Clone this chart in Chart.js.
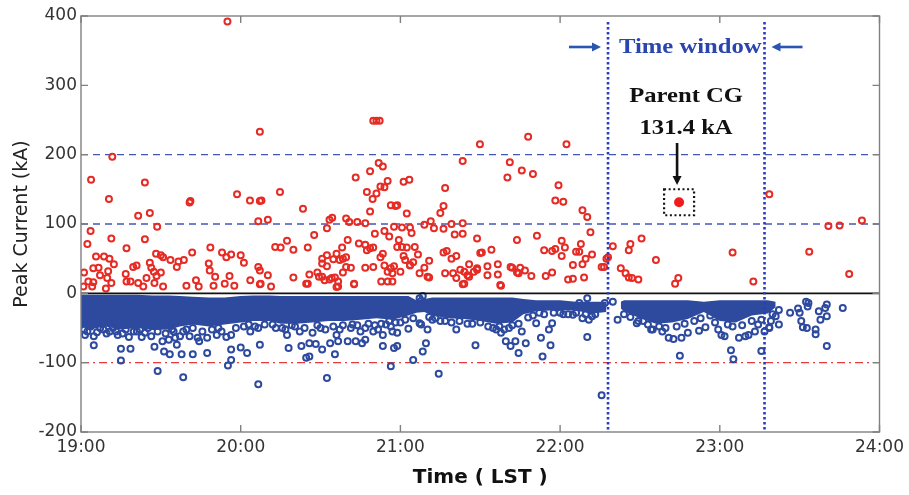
<!DOCTYPE html>
<html>
<head>
<meta charset="utf-8">
<script src="https://cdn.jsdelivr.net/npm/chart.js@4.4.1/dist/chart.umd.min.js"></script>
<style>
  html, body { margin: 0; padding: 0; background: #fff; }
  #wrap { width: 909px; height: 495px; }
</style>
</head>
<body>
<div id="wrap"><canvas id="peakChart" width="909" height="495"></canvas></div>
<script>
// axis ticks
const timeTicks = [19, 20, 21, 22, 23, 24];
const currentTicks = [-200, -100, 0, 100, 200, 300, 400];

// positive CG strokes: time (hours LST) and peak current (kA)
const posTime = [19.196,19.063,19.40,19.175,19.68,19.685,19.977,20.058,20.12,20.13,20.246,20.39,19.358,19.431,19.477,20.11,20.17,20.556,20.573,20.66,20.54,19.06,19.19,19.40,19.04,19.285,19.094,19.144,19.178,19.206,19.019,19.077,19.11,19.17,19.119,19.046,19.077,19.015,19.07,19.156,19.164,19.19,19.47,19.50,19.431,19.44,19.456,19.514,19.56,19.61,19.644,19.60,19.327,19.348,19.50,19.473,19.41,19.28,19.285,19.31,19.358,19.39,19.46,19.514,19.66,19.696,19.72,19.737,19.81,19.80,19.806,19.84,19.83,19.883,19.91,19.94,20.0,20.02,19.90,19.93,19.96,20.06,20.11,20.12,20.12,20.125,20.17,20.19,20.216,20.25,20.29,20.33,20.42,20.46,20.33,20.42,20.43,20.48,20.51,20.54,20.51,20.54,20.58,20.60,20.635,20.62,20.64,20.66,20.64,20.66,20.51,20.556,20.59,20.61,20.60,20.67,19.917,20.12,20.83,20.85,20.87,21.80,21.498,22.04,21.39,21.685,21.76,21.83,21.67,20.864,20.89,20.81,20.72,20.92,21.02,21.056,20.875,20.90,20.79,20.85,20.826,21.28,20.94,20.97,20.98,21.27,21.25,21.04,20.81,21.97,22.02,21.99,22.14,22.17,20.68,20.73,20.78,20.96,21.01,21.06,21.19,21.15,21.21,21.27,21.32,21.39,20.84,20.90,20.93,21.07,21.34,21.39,21.48,21.73,21.855,22.19,20.74,20.78,20.79,20.81,20.83,20.99,20.98,21.01,21.04,21.09,20.89,20.875,20.90,20.94,20.96,21.02,21.03,21.06,21.08,21.11,21.27,21.29,21.32,21.35,21.51,21.57,21.43,21.61,21.61,21.545,21.545,21.63,21.18,21.15,21.12,21.18,21.28,21.35,21.40,21.39,21.43,21.48,21.48,20.69,20.78,20.83,20.71,20.88,20.92,20.95,20.92,21.0,20.95,21.70,21.73,21.75,21.78,21.82,21.91,21.95,21.90,21.95,21.97,22.01,22.03,22.01,22.10,22.12,22.13,22.20,22.16,22.14,22.08,22.05,22.08,22.15,22.275,22.29,22.33,23.31,23.68,23.75,23.89,22.51,22.44,22.43,22.60,23.08,23.56,22.38,22.41,22.43,22.45,22.49,22.74,22.72,23.21,23.81,20.41,20.49,20.525,20.57,20.61,20.71,21.06,21.17,21.33,21.375,21.40,21.42,21.46,21.50,21.625,21.69,21.74,22.26,22.30];
const posCurrent = [197,164,160,136,131,133,143,134,133,134,146,122,112,116,96,104,106,106,109,108,94,90,79,78,71,65,53,53,50,42,30,36,37,32,26,17,16,10,10,7,22,15,57,55,44,37,31,52,48,46,48,38,38,40,30,25,22,28,17,17,15,10,15,10,11,59,19,10,66,43,33,24,11,59,52,56,55,44,14,25,11,19,38,33,13,14,26,10,67,66,76,63,66,84,23,14,27,30,50,55,43,39,49,57,66,48,50,52,30,38,24,20,23,17,9,77,392,233,249,249,249,226,215,215,191,189,177,172,167,188,183,176,167,162,161,164,154,153,146,144,136,152,127,126,127,126,116,115,118,134,132,156,120,110,103,103,101,96,95,95,104,99,94,93,100,101,86,90,82,87,85,86,79,77,83,88,72,70,62,65,66,77,67,67,66,67,57,52,40,36,39,54,48,40,45,56,59,61,50,54,59,63,42,42,27,39,26,11,47,37,29,23,29,22,31,13,24,34,36,37,37,38,13,17,17,17,31,31,29,37,30,37,33,25,25,30,62,61,64,76,66,54,60,60,71,56,50,42,41,20,21,23,38,50,68,143,97,98,105,79,71,62,48,59,60,36,29,23,22,20,22,14,17,28,14,24,19,22,10,14,41,24,29,34,14,26,31,58,12,38,29,38,52];

// negative CG strokes scattered outside the dense band
const negTime = [19.025,19.08,19.08,19.25,19.31,19.25,19.23,19.30,19.38,19.44,19.46,19.52,19.556,19.60,19.63,19.70,19.79,19.48,19.64,19.51,19.55,19.59,19.62,19.68,19.73,19.74,19.79,19.85,19.91,19.94,20.0,20.04,20.12,19.94,19.94,19.92,20.11,20.06,20.11,20.30,20.29,20.37,20.38,20.43,20.45,20.47,20.51,20.59,20.56,20.60,20.61,20.67,20.41,20.43,20.54,20.72,20.76,20.78,20.75,20.83,20.86,20.89,20.91,20.94,20.95,20.98,20.89,20.96,20.98,20.94,21.05,21.12,21.13,21.17,21.16,21.14,21.08,21.24,21.12,21.13,21.14,21.35,21.47,21.63,21.66,21.69,21.72,21.76,21.785,21.74,21.85,21.88,21.89,21.94,21.95,21.93,22.08,22.12,22.17,22.17,22.14,22.18,22.26,22.36,22.33,22.75,23.07,23.085,23.26,23.67,23.44,23.50,23.51,23.555,23.52,23.545,23.60,23.60,23.63,23.67,23.66,23.77,23.49,23.54,23.55,23.62,23.67,23.37,23.35,23.32,23.31,23.37,22.64,22.68,22.71,22.76,22.80,22.87,22.91,22.99,23.01,23.03,23.12,23.16,23.18,23.22,23.24,23.28,23.31,22.58,22.49,22.48,22.57,19.0,19.02,19.12,19.18,19.28,19.35,19.42,19.58,19.66,19.86,20.02,20.2,20.26,20.34,20.5,20.64,20.7,20.8,21.0,21.2,21.25,21.42,21.55,21.6,21.68,21.8,21.9,22.0,22.05,22.22,22.25,22.28,
  19.04,19.06,19.10,19.14,19.16,19.20,19.22,19.26,19.33,19.37,19.40,19.48,19.53,19.57,19.64,19.70,19.76,19.82,19.88,19.97,20.05,20.09,20.15,20.22,20.28,20.32,20.40,20.48,20.53,20.58,20.62,20.69,20.73,20.78,20.84,20.88,20.93,20.97,21.03,21.08,21.18,21.22,21.28,21.32,21.37,21.45,21.50,21.58,21.62,21.65,21.70,21.74,21.83,21.87,21.96,22.02,22.10,22.16,22.20,
  22.40,22.44,22.52,22.55,22.62,22.66,22.73,22.78,22.84,22.88,22.94,22.97,23.05,23.08,23.14,23.20,23.26,23.33];
const negCurrent = [-60,-62,-75,-80,-80,-97,-60,-63,-63,-62,-77,-84,-88,-74,-88,-88,-86,-112,-121,-69,-67,-64,-62,-62,-64,-69,-64,-60,-63,-60,-78,-86,-74,-81,-96,-104,-131,-55,-50,-79,-60,-55,-76,-72,-57,-73,-81,-88,-72,-60,-69,-69,-93,-91,-122,-69,-72,-67,-55,-55,-52,-60,-45,-48,-55,-57,-76,-79,-76,-105,-51,-43,-45,-52,-72,-84,-96,-116,-7,-11,-4,-52,-75,-57,-69,-76,-69,-55,-72,-86,-43,-64,-91,-75,-43,-52,-31,-14,-7,-63,-36,-38,-147,-38,-12,-90,-82,-95,-83,-76,-28,-28,-40,-14,-49,-50,-52,-59,-38,-33,-21,-21,-22,-12,-19,-26,-16,-24,-33,-40,-50,-45,-55,-64,-66,-64,-57,-54,-49,-52,-60,-62,-64,-62,-60,-55,-45,-55,-49,-52,-40,-43,-52,-45,-52,-50,-55,-52,-55,-50,-55,-52,-50,-48,-45,-50,-48,-50,-46,-45,-44,-42,-38,-40,-44,-48,-52,-50,-35,-30,-28,-30,-30,-20,-14,
  -55,-48,-56,-52,-58,-50,-55,-58,-55,-52,-57,-55,-58,-52,-55,-50,-55,-52,-55,-50,-45,-48,-45,-50,-52,-46,-50,-46,-52,-48,-52,-50,-46,-50,-46,-44,-40,-42,-38,-36,-34,-36,-40,-42,-40,-44,-42,-50,-48,-52,-46,-44,-32,-28,-28,-30,-28,-30,-33,
  -30,-34,-40,-45,-48,-50,-48,-44,-40,-36,-32,-42,-45,-48,-46,-40,-38,-30];

// dense negative band (before and inside the time window): upper and lower edge
const bandATime = [19.0,19.05,19.10,19.15,19.25,19.35,19.45,19.55,19.62,19.70,19.80,19.90,20.0,20.08,20.18,20.25,20.35,20.45,20.55,20.65,20.75,20.85,20.95,21.05,21.10,21.15,21.20,21.30,21.40,21.50,21.60,21.70,21.77,21.85,22.0,22.1,22.2,22.29];
const bandATop = [-2,-2,-2,-2,-2,-2,-3,-3,-4,-5,-6,-6,-4,-3,-3,-4,-4,-4,-4,-4,-4,-4,-4,-4,-10,-8,-6,-6,-6,-6,-6,-6,-8,-10,-10,-12,-12,-12];
const bandABottom = [-47,-52,-50,-48,-52,-50,-53,-52,-48,-45,-48,-45,-42,-40,-40,-44,-44,-42,-40,-40,-38,-36,-38,-32,-28,-27,-32,-36,-37,-40,-44,-42,-30,-26,-24,-25,-29,-27];
const bandBTime = [22.38,22.40,22.50,22.60,22.70,22.80,22.90,23.0,23.10,23.20,23.30,23.35];
const bandBTop = [-12,-10,-10,-10,-10,-10,-12,-10,-10,-10,-10,-12];
const bandBBottom = [-22,-26,-36,-44,-42,-37,-27,-40,-42,-32,-29,-20];

// parent CG flash
const parentTime = [22.745];
const parentCurrent = [131.4];

// reference levels and time window
const blueLevels = [100, 200];
const redLevels = [-100];
const windowEdges = [22.3, 23.28];

const pts = (xs, ys) => xs.map((t, i) => ({ x: t, y: ys[i] }));

const BLUE = '#2d4a9f';
const RED = '#e62b25';

function arrow(ctx, x1, y1, x2, y2, color, w, head) {
  const ang = Math.atan2(y2 - y1, x2 - x1);
  ctx.strokeStyle = color; ctx.fillStyle = color; ctx.lineWidth = w;
  ctx.setLineDash([]);
  ctx.beginPath();
  ctx.moveTo(x1, y1);
  ctx.lineTo(x2 - Math.cos(ang) * head * 0.8, y2 - Math.sin(ang) * head * 0.8);
  ctx.stroke();
  ctx.beginPath();
  ctx.moveTo(x2, y2);
  ctx.lineTo(x2 - head * Math.cos(ang) + head * 0.5 * Math.sin(ang), y2 - head * Math.sin(ang) - head * 0.5 * Math.cos(ang));
  ctx.lineTo(x2 - head * Math.cos(ang) - head * 0.5 * Math.sin(ang), y2 - head * Math.sin(ang) + head * 0.5 * Math.cos(ang));
  ctx.closePath();
  ctx.fill();
}

function serifText(ctx, txt, cx, cy, color) {
  ctx.save();
  ctx.translate(cx, cy);
  ctx.scale(1.12, 1);
  ctx.font = 'bold 22px "Liberation Serif", "Times New Roman", serif';
  ctx.fillStyle = color;
  ctx.textAlign = 'center';
  ctx.textBaseline = 'middle';
  ctx.fillText(txt, 0, 0);
  ctx.restore();
}

const decorations = {
  id: 'decorations',
  beforeDatasetsDraw(chart) {
    const { ctx, chartArea: a, scales: { x, y } } = chart;
    ctx.save();
    ctx.lineWidth = 1.4;
    ctx.strokeStyle = '#4455b8';
    ctx.setLineDash([7, 5]);
    blueLevels.forEach(v => {
      const py = y.getPixelForValue(v);
      ctx.beginPath(); ctx.moveTo(a.left, py); ctx.lineTo(a.right, py); ctx.stroke();
    });
    ctx.strokeStyle = '#e83a3a';
    ctx.setLineDash([8, 4, 2, 4]);
    redLevels.forEach(v => {
      const py = y.getPixelForValue(v);
      ctx.beginPath(); ctx.moveTo(a.left, py); ctx.lineTo(a.right, py); ctx.stroke();
    });
    ctx.restore();
  },
  afterDatasetsDraw(chart) {
    const { ctx, chartArea: a, scales: { x, y } } = chart;
    ctx.save();
    // zero line
    const y0 = y.getPixelForValue(0);
    ctx.strokeStyle = '#111'; ctx.lineWidth = 1.6; ctx.setLineDash([]);
    ctx.beginPath(); ctx.moveTo(a.left, y0); ctx.lineTo(a.right, y0); ctx.stroke();

    // time window dotted lines
    ctx.strokeStyle = '#2a3cc0'; ctx.lineWidth = 2.6; ctx.setLineDash([2.4, 2.6]);
    windowEdges.forEach(t => {
      const px = x.getPixelForValue(t);
      ctx.beginPath(); ctx.moveTo(px, a.top + 6); ctx.lineTo(px, a.bottom); ctx.stroke();
    });

    // frame and inward ticks
    ctx.setLineDash([]);
    ctx.strokeStyle = '#808080'; ctx.lineWidth = 1.4;
    ctx.strokeRect(a.left, a.top, a.right - a.left, a.bottom - a.top);
    timeTicks.forEach(t => {
      const px = x.getPixelForValue(t);
      ctx.beginPath();
      ctx.moveTo(px, a.bottom); ctx.lineTo(px, a.bottom - 7);
      ctx.moveTo(px, a.top); ctx.lineTo(px, a.top + 7);
      ctx.stroke();
    });
    currentTicks.forEach(v => {
      const py = y.getPixelForValue(v);
      ctx.beginPath();
      ctx.moveTo(a.left, py); ctx.lineTo(a.left + 7, py);
      ctx.moveTo(a.right, py); ctx.lineTo(a.right - 7, py);
      ctx.stroke();
    });

    // time window label and arrows
    const xl = x.getPixelForValue(windowEdges[0]);
    const xr = x.getPixelForValue(windowEdges[1]);
    serifText(ctx, 'Time window', (xl + xr) / 2 + 4, 47, '#2a45b0');
    arrow(ctx, xl - 39, 47, xl - 7, 47, '#2a55b0', 2.6, 9);
    arrow(ctx, xr + 38, 47, xr + 7, 47, '#2a55b0', 2.6, 9);

    // parent CG label, arrow and dotted box
    const px = x.getPixelForValue(parentTime[0]);
    const py = y.getPixelForValue(parentCurrent[0]);
    serifText(ctx, 'Parent CG', px + 7, 96, '#111');
    serifText(ctx, '131.4 kA', px + 7, 128, '#111');
    arrow(ctx, px - 2, 143, px - 2, 185, '#111', 2.6, 9);
    ctx.strokeStyle = '#111'; ctx.lineWidth = 2.2; ctx.setLineDash([2, 2.6]);
    ctx.strokeRect(px - 15, py - 13, 30, 26);
    ctx.restore();
  }
};

const ringStyle = color => ({
  type: 'scatter',
  pointStyle: 'circle',
  pointRadius: 3,
  pointBorderWidth: 2,
  pointBorderColor: color,
  pointBackgroundColor: 'rgba(255,255,255,0)',
  showLine: false
});

const bandEdge = (xs, ys, fill) => ({
  type: 'line',
  data: pts(xs, ys),
  borderWidth: 0,
  borderColor: BLUE,
  backgroundColor: BLUE,
  pointRadius: 0,
  tension: 0,
  fill: fill,
  order: 4
});

new Chart(document.getElementById('peakChart'), {
  data: {
    datasets: [
      bandEdge(bandATime, bandATop, false),
      bandEdge(bandATime, bandABottom, '-1'),
      bandEdge(bandBTime, bandBTop, false),
      bandEdge(bandBTime, bandBBottom, '-1'),
      Object.assign(ringStyle(BLUE), { label: 'Negative CG', data: pts(negTime, negCurrent), order: 3 }),
      Object.assign(ringStyle(RED), { label: 'Positive CG', data: pts(posTime, posCurrent), order: 2 }),
      {
        type: 'scatter', label: 'Parent CG', data: pts(parentTime, parentCurrent),
        pointRadius: 5, pointBorderWidth: 0, pointBackgroundColor: '#ee1c1c', order: 1
      }
    ]
  },
  options: {
    responsive: false,
    animation: false,
    layout: { padding: { top: 16, right: 27, left: 0, bottom: 0 } },
    plugins: { legend: { display: false }, tooltip: { enabled: false } },
    scales: {
      x: {
        type: 'linear', min: 19, max: 24,
        grid: { display: false, drawTicks: false },
        border: { display: false },
        afterBuildTicks: s => { s.ticks = timeTicks.map(v => ({ value: v })); },
        afterFit: s => { s.height = 63; },
        ticks: {
          padding: 5, color: '#333', maxRotation: 0,
          font: { family: '"DejaVu Sans", sans-serif', size: 17 },
          callback: v => v + ':00'
        },
        title: {
          display: true, text: 'Time ( LST )', color: '#111',
          font: { family: '"DejaVu Sans", sans-serif', size: 20, weight: 'bold' },
          padding: { top: 0, bottom: 5 }
        }
      },
      y: {
        min: -200, max: 400,
        grid: { display: false, drawTicks: false },
        border: { display: false },
        afterBuildTicks: s => { s.ticks = currentTicks.map(v => ({ value: v })); },
        afterFit: s => { s.width = 81; },
        ticks: {
          padding: 4, color: '#333',
          font: { family: '"DejaVu Sans", sans-serif', size: 17 }
        },
        title: {
          display: true, text: 'Peak Current (kA)', color: '#222',
          font: { family: '"DejaVu Sans", sans-serif', size: 19 },
          padding: { top: 11, bottom: 0 }
        }
      }
    }
  },
  plugins: [decorations]
});
</script>
</body>
</html>
